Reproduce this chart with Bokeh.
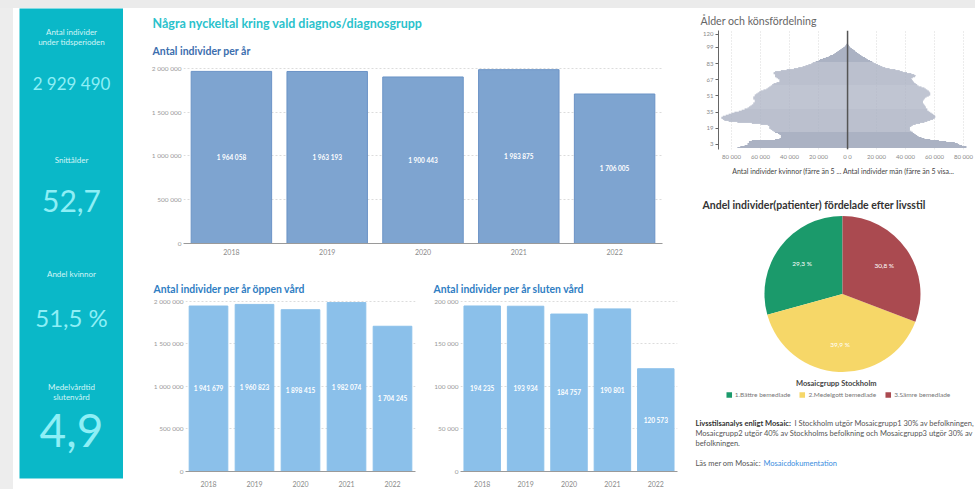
import math
from bokeh.plotting import figure
from bokeh.models import (ColumnDataSource, Range1d, FactorRange, FixedTicker,
                          CustomJSTickFormatter, Title, Span, Legend, LegendItem, Spacer)
from bokeh.layouts import row, column
from bokeh.embed import file_html
from bokeh.resources import INLINE
from bokeh.core.properties import value

FONT = "Lato"

# ---------------- data ----------------
years = ["2018", "2019", "2020", "2021", "2022"]
individuals_total = [1964058, 1963193, 1900443, 1983875, 1706005]
individuals_open_care = [1941679, 1960823, 1898415, 1982074, 1704245]
individuals_inpatient = [194235, 193934, 184757, 190801, 120573]

ticks_millions = [0, 500000, 1000000, 1500000, 2000000]
ticks_inpatient = [0, 50000, 100000, 150000, 200000]

kpi_labels = ["Antal individer\nunder tidsperioden", "Snittålder", "Andel kvinnor",
              "Medelvårdtid\nslutenvård"]
kpi_values = ["2 929 490", "52,7", "51,5 %", "4,9"]

mosaic_groups = ["1.Bättre bemedlade", "2.Medelgott bemedlade", "3.Sämre bemedlade"]
mosaic_share = [29.3, 39.9, 30.8]

# age pyramid, individuals (thousands) per age 0,1,2,...
pyramid_women_k = [76, 74, 71, 69, 69, 68, 68, 66, 50, 47,
                   46, 46, 46, 47, 48, 50, 51, 52, 53, 54,
                   54, 54, 55, 60, 66, 76, 82, 85, 86, 87,
                   87, 86, 84, 82, 80, 78, 75, 73, 71, 69,
                   68, 67, 66, 65, 65, 64, 64, 64, 65, 65,
                   65, 64, 64, 63, 62, 61, 60, 58, 56, 55,
                   54, 53, 52, 51, 49, 47, 47, 47, 48, 49,
                   50, 50, 50, 51, 51, 50, 46, 42, 37, 34,
                   31, 29, 27, 25, 24, 22, 20, 19, 17, 15,
                   13, 12, 10, 9, 8, 7, 6, 5, 4, 3,
                   2, 1.5, 1, 0.5]
pyramid_men_k = [82, 82, 79, 77, 76, 74, 68, 63, 57, 53,
                 51, 49, 48, 47, 46, 45, 44, 43, 43, 43,
                 43, 44, 45, 47, 50, 53, 55, 57, 59, 60,
                 60.5, 60.5, 60, 59, 58, 57, 56, 55, 55, 54,
                 54, 53.5, 53, 52.5, 52, 52, 52, 52.5, 53, 53.5,
                 54.5, 56, 57, 57, 57, 56.5, 56, 55, 54, 53,
                 51, 49, 48, 47, 46, 45.5, 45, 44.5, 44, 45,
                 46.5, 47, 46, 44, 41, 38, 36, 33, 29, 26,
                 24, 22.5, 21, 19.5, 18, 17, 15.5, 14, 13, 12,
                 10.5, 9.5, 8.5, 7.5, 6.5, 5.5, 5, 4, 3, 2,
                 1.5, 1, 0.5, 0.3]
pyramid_age_ticks = [3, 19, 35, 51, 67, 83, 99]
pyramid_top_label = "120"
pyramid_x_ticks = [-80000, -60000, -40000, -20000, 0, 20000, 40000, 60000, 80000]
pyramid_axis_label = ("Antal individer kvinnor (färre än 5 ... "
                      "Antal individer män (färre än 5 visa...")

# ---------------- helpers ----------------
def fmt_num(v):
    return f"{v:,}".replace(",", " ")

space_fmt = CustomJSTickFormatter(
    code=r"return Math.round(Math.abs(tick)).toString().replace(/\B(?=(\d{3})+(?!\d))/g, ' ');")


def base_fig(width, height, x_range, y_range, left, right, top, bottom, **kw):
    p = figure(width=width, height=height, x_range=x_range, y_range=y_range,
               output_backend="svg", toolbar_location=None, title=None,
               min_border_left=left, min_border_right=right,
               min_border_top=top, min_border_bottom=bottom, **kw)
    p.outline_line_color = None
    p.border_fill_color = "white"
    p.background_fill_color = "white"
    return p


def plain_axis(ax, size, color, standoff):
    ax.major_tick_line_color = None
    ax.minor_tick_line_color = None
    ax.major_tick_out = 0
    ax.major_tick_in = 0
    ax.minor_tick_out = 0
    ax.minor_tick_in = 0
    ax.major_label_text_font = FONT
    ax.major_label_text_font_size = size
    ax.major_label_text_color = color
    ax.major_label_standoff = standoff


def bar_chart(width, height, vals, ticks, ymax, fill, line, borders, titles, xstand):
    src = ColumnDataSource(dict(year=years, v=vals, mid=[v / 2 for v in vals],
                                lab=[fmt_num(v) for v in vals]))
    p = base_fig(width, height, FactorRange(factors=years), Range1d(0, ymax), *borders)
    p.vbar(x="year", top="v", width=0.84, source=src, fill_color=fill, line_color=line)
    p.text(x="year", y="mid", text="lab", source=src, text_color="white",
           text_font=value(FONT), text_font_size="6.5px", text_font_style="bold",
           text_align="center", text_baseline="middle")
    p.xgrid.grid_line_color = None
    p.ygrid.grid_line_color = "#dcdcdc"
    p.ygrid.grid_line_dash = "2 2"
    p.ygrid.ticker = FixedTicker(ticks=ticks)
    xa, ya = p.xaxis[0], p.yaxis[0]
    xa.axis_line_color = "#9a9a9a"
    plain_axis(xa, "7px", "#8a8a8a", xstand)
    ya.ticker = FixedTicker(ticks=ticks)
    ya.formatter = space_fmt
    ya.axis_line_color = None
    plain_axis(ya, "6.5px", "#9a9a9a", 2)
    for (txt, size, color, offset, standoff) in titles:
        p.add_layout(Title(text=txt, align="left", offset=offset, standoff=standoff,
                           text_font=FONT, text_font_size=size, text_font_style="bold",
                           text_color=color), "above")
    return p


# ---------------- left KPI panel ----------------
kpi_label_y = [28.5, 151, 265, 383.5]
kpi_value_y = [75, 192, 309, 422]
kpi_value_size = ["17px", "30px", "24px", "46px"]
p_left = base_fig(110, 481, Range1d(0, 104), Range1d(470, 0), 6, 0, 0, 11,
                  x_axis_location=None, y_axis_location=None)
p_left.background_fill_color = "#0ab8c8"
p_left.grid.visible = False
for i in range(len(kpi_labels)):
    p_left.text(x=[52], y=[kpi_label_y[i]], text=[kpi_labels[i]], text_color="#d2f5f7",
                text_font=value(FONT), text_font_size="8px", text_align="center",
                text_baseline="middle", text_line_height=1.0)
    p_left.text(x=[52], y=[kpi_value_y[i]], text=[kpi_values[i]], text_color="#8eeff6",
                text_font=value(FONT), text_font_size=kpi_value_size[i], text_align="center",
                text_baseline="middle")

# ---------------- middle bar charts ----------------
p_top = bar_chart(557, 262, individuals_total, ticks_millions, 2020000,
                  "#7ea4d0", "#6b93c6", (60, 18, 58, 27),
                  [("Antal individer per år", "10.5px", "#3c6eae", -31, 19),
                   ("Några nyckeltal kring vald diagnos/diagnosgrupp", "12.5px", "#2bc2cc", -31, 6)],
                  5)
p_bl = bar_chart(297, 219, individuals_open_care, ticks_millions, 2030000,
                 "#8bc0ea", "#8bc0ea", (62, 5, 28, 16),
                 [("Antal individer per år öppen vård", "10.4px", "#2f7ec3", -32, 8)], 9)
p_br = bar_chart(260, 219, individuals_inpatient, ticks_inpatient, 203000,
                 "#8bc0ea", "#8bc0ea", (40, 3, 28, 16),
                 [("Antal individer per år sluten vård", "10.4px", "#2f7ec3", -27, 8)], 9)

# ---------------- age pyramid ----------------
ages = list(range(len(pyramid_women_k)))
pyr_src = ColumnDataSource(dict(age=ages,
                                women=[-v * 1000 for v in pyramid_women_k],
                                men=[v * 1000 for v in pyramid_men_k]))
p_pyr = base_fig(295, 174, Range1d(-89000, 83400), Range1d(-1.95, 115.8), 38, 7, 22, 33)
p_pyr.hbar(y="age", left="women", right=0, height=1.0, source=pyr_src,
           fill_color="#abb2c3", line_color=None)
p_pyr.hbar(y="age", left=0, right="men", height=1.0, source=pyr_src,
           fill_color="#abb2c3", line_color=None)
p_pyr.add_layout(Span(location=0, dimension="height", line_color="#555555", line_width=1.5))
xa = p_pyr.xaxis[0]
xa.ticker = FixedTicker(ticks=pyramid_x_ticks)
xa.formatter = space_fmt
xa.major_label_overrides = {0: "0 0"}
xa.axis_line_color = None
plain_axis(xa, "6px", "#8a8a8a", 3)
xa.axis_label = pyramid_axis_label
xa.axis_label_text_font = FONT
xa.axis_label_text_font_size = "7px"
xa.axis_label_text_font_style = "normal"
xa.axis_label_text_color = "#444444"
xa.axis_label_standoff = 4
p_pyr.xgrid.ticker = FixedTicker(ticks=pyramid_x_ticks)
p_pyr.xgrid.grid_line_color = "#d8d8d8"
p_pyr.xgrid.grid_line_dash = "1 2"
p_pyr.ygrid.grid_line_color = None
ya = p_pyr.yaxis[0]
ya.ticker = FixedTicker(ticks=pyramid_age_ticks + [112])
ya.major_label_overrides = {112: pyramid_top_label}
ya.axis_line_color = "#666666"
ya.major_tick_line_color = "#666666"
ya.major_tick_in = 0
ya.major_tick_out = 3
ya.minor_tick_line_color = None
ya.minor_tick_in = 0
ya.minor_tick_out = 0
ya.major_label_text_font = FONT
ya.major_label_text_font_size = "6px"
ya.major_label_text_color = "#8a8a8a"
ya.major_label_standoff = 2
p_pyr.add_layout(Title(text="Ålder och könsfördelning", align="left", offset=-18, standoff=7,
                       text_font=FONT, text_font_size="10.6px", text_font_style="normal",
                       text_color="#666666"), "above")

# ---------------- pie ----------------
colors = ["#1b9a6b", "#f6d768", "#aa4a50"]
starts, ends, lx, ly, labs = [], [], [], [], []
a = math.pi / 2
for s in mosaic_share:
    span = s / sum(mosaic_share) * 2 * math.pi
    starts.append(a)
    ends.append(a + span)
    mid = a + span / 2
    lx.append(0.65 * math.cos(mid))
    ly.append(0.65 * math.sin(mid))
    labs.append(f"{s:.1f}".replace(".", ",") + " %")
    a += span
pie_src = ColumnDataSource(dict(start=starts, end=ends, color=colors, lx=lx, ly=ly, lab=labs,
                                group=mosaic_groups))
p_pie = base_fig(295, 222, Range1d(-1.82, 1.705), Range1d(-1.391, 1.045), 20, 0, 30, 2,
                 x_axis_location=None, y_axis_location=None)
p_pie.grid.visible = False
wr = p_pie.wedge(x=0, y=0, radius=1, start_angle="start", end_angle="end", source=pie_src,
                 fill_color="color", line_color=None)
p_pie.text(x="lx", y="ly", text="lab", source=pie_src, text_color="white",
           text_font=value(FONT), text_font_size="6.5px", text_align="center",
           text_baseline="middle")
p_pie.text(x=[-0.08], y=[-1.147], text=["Mosaicgrupp Stockholm"], text_color="#444444",
           text_font=value(FONT), text_font_size="7.5px", text_font_style="bold",
           text_align="center", text_baseline="middle")
p_pie.add_layout(Title(text="Andel individer(patienter) fördelade efter livsstil", align="left",
                       offset=2, standoff=4, text_font=FONT, text_font_size="10.5px",
                       text_font_style="bold", text_color="#333333"), "above")
legend = Legend(items=[LegendItem(label=g, renderers=[wr], index=i)
                       for i, g in enumerate(mosaic_groups)],
                orientation="horizontal", location="bottom_center",
                label_text_font=FONT, label_text_font_size="6.5px", label_text_color="#777777",
                glyph_width=7, glyph_height=7, label_standoff=3, spacing=8, padding=0,
                margin=4, border_line_color=None, background_fill_alpha=0, label_height=8)
p_pie.add_layout(legend)

# ---------------- paragraph ----------------
p_txt = base_fig(295, 85, Range1d(0, 295), Range1d(85, 0), 0, 0, 0, 0,
                 x_axis_location=None, y_axis_location=None)
p_txt.grid.visible = False
common = dict(text_font=value(FONT), text_font_size="7.5px", text_baseline="middle",
              text_align="left")
p_txt.text(x=[15], y=[19], text=["Livsstilsanalys enligt Mosaic:"], text_color="#333333",
           text_font_style="bold", **common)
p_txt.text(x=[15], y=[19], x_offset=[99],
           text=["I Stockholm utgör Mosaicgrupp1  30% av befolkningen,"],
           text_color="#555555", **common)
p_txt.text(x=[15, 15], y=[29, 39],
           text=["Mosaicgrupp2 utgör 40% av Stockholms befolkning och Mosaicgrupp3 utgör 30% av",
                 "befolkningen."], text_color="#555555", **common)
p_txt.text(x=[15], y=[59], text=["Läs mer om Mosaic:"], text_color="#555555", **common)
p_txt.text(x=[15], y=[59], x_offset=[68], text=["Mosaicdokumentation"], text_color="#3a8ee0",
           **common)

# ---------------- layout ----------------
middle = column(p_top, row(p_bl, p_br))
right = column(row(p_pyr), row(p_pie), row(p_txt))
top_strip = Spacer(width=975, height=8, styles={"background-color": "#ebebeb"})
left_strip = Spacer(width=13, height=481, styles={"background-color": "#ededed"})
layout = column(top_strip, row(left_strip, p_left, middle, right))

open("out.html", "w").write(file_html(layout, INLINE))
